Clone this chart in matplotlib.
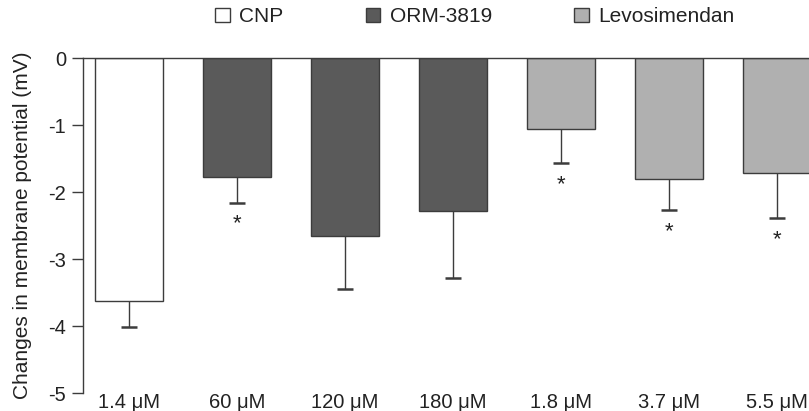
import matplotlib.pyplot as plt
from matplotlib.patches import Patch

plt.rcParams['font.family'] = ['Liberation Sans', 'DejaVu Sans']

# data
labels = ['1.4 μM', '60 μM', '120 μM', '180 μM', '1.8 μM', '3.7 μM', '5.5 μM']
groups = ['CNP', 'ORM-3819', 'ORM-3819', 'ORM-3819', 'Levosimendan', 'Levosimendan', 'Levosimendan']
means = [-3.62, -1.77, -2.65, -2.29, -1.06, -1.81, -1.71]
errors = [0.40, 0.39, 0.80, 0.99, 0.51, 0.46, 0.68]
significant = [False, True, False, False, True, True, True]

colors = {'CNP': '#ffffff', 'ORM-3819': '#5a5a5a', 'Levosimendan': '#b0b0b0'}
edge = '#3c3c3c'
txt = '#222222'

fig = plt.figure(figsize=(8.09, 4.11), dpi=100)
ax = fig.add_axes([83 / 809, 18 / 411, 1 - 83 / 809, 335 / 411])

x = list(range(len(labels)))
ax.bar(x, means, width=0.63, color=[colors[g] for g in groups],
       edgecolor=edge, linewidth=1.0, zorder=2)
# downward error bars only, cap just at the lower end
lows = [m - e for m, e in zip(means, errors)]
ax.vlines(x, lows, means, color=edge, linewidth=1.0, zorder=3)
ax.plot(x, lows, linestyle='none', marker='_', markersize=12, markeredgewidth=1.8,
        color=edge, zorder=3)

for xi, lo, s in zip(x, lows, significant):
    if s:
        ax.text(xi, lo - 0.32, '*', ha='center', va='center', fontsize=16, color=txt)

ax.set_xlim(-0.426, 6.296)
ax.set_ylim(-5, 0)
ax.set_yticks([0, -1, -2, -3, -4, -5])
ax.set_yticklabels(['0', '-1', '-2', '-3', '-4', '-5'])
ax.set_xticks(x)
ax.set_xticklabels(labels)
ax.tick_params(axis='x', length=0, pad=0, labelsize=14.5, colors=txt)
ax.tick_params(axis='y', length=8, width=1, pad=4, labelsize=14.5, colors=txt, color=edge)

ax.spines['right'].set_visible(False)
ax.spines['bottom'].set_visible(False)
ax.spines['left'].set_color(edge)
ax.spines['top'].set_color(edge)
ax.spines['left'].set_linewidth(1.0)
ax.spines['top'].set_linewidth(1.0)

ax.set_ylabel('Changes in membrane potential (mV)', fontsize=15, color=txt, labelpad=12)

handles = [Patch(facecolor=colors[g], edgecolor=edge, linewidth=1.0, label=g)
           for g in ['CNP', 'ORM-3819', 'Levosimendan']]
fig.legend(handles=handles, loc='center', bbox_to_anchor=(475 / 809, 1 - 17 / 411), ncol=3,
           frameon=False, fontsize=15, handlelength=0.7, handleheight=0.7,
           handletextpad=0.45, columnspacing=3.95, labelcolor=txt)

fig.savefig('out.png', dpi=100)
